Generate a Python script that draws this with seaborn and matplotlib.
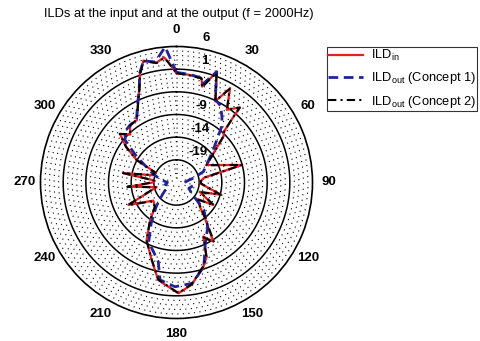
import numpy as np
import pandas as pd
import seaborn as sns
import matplotlib.pyplot as plt
from matplotlib.lines import Line2D

# ILD_in (red) - angle in degrees, level in dB
red_theta = [0, 7, 13.5, 15, 20, 25.5, 29.6, 34.7, 40.2, 41, 43, 45.6, 51.6, 60, 75, 80, 88, 93,
             105.5, 112, 121.4, 128, 136, 141.5, 148, 153.7, 158, 162.3, 171.6, 179, 190.6, 197.7,
             207.4, 215, 221.6, 232, 245, 250, 257, 265, 270, 275, 280, 287, 295, 299.5, 305.3,
             310.6, 316, 321, 327.5, 332.9, 338, 341.5, 344.8, 350.6, 354.3, 356, 360]
red_db = [0.1, -0.1, -0.35, -2.1, 2.0, -4.2, -0.1, -4.5, -2.3, -5.0, -8.7, -9.5, -13.6, -16.3, -9.1,
          -17.8, -18.8, -18.6, -13.7, -18.5, -14.5, -18.0, -16.6, -13.9, -8.7, -10.7, -6.3, -4.5,
          -1.2, 0.45, -2.1, -6.0, -9.7, -13.9, -16.9, -17.5, -12.3, -17.0, -19.5, -13.3, -18.8,
          -19.2, -12.1, -18.5, -19.0, -13.9, -10.4, -7.6, -9.3, -7.7, -7.7, -5.2, -2.0, 1.4, 3.85,
          2.8, 3.75, 2.7, 0.1]

# ILD_out concept 2 (black), almost the same as the input
black_db = [0.1, -0.2, -0.4, -2.3, 1.8, -4.0, -0.3, -4.4, -2.4, -5.1, -8.5, -9.6, -13.5, -16.4, -9.0,
            -17.6, -18.7, -18.5, -13.9, -18.3, -14.3, -17.8, -16.4, -13.6, -8.4, -10.5, -6.4, -4.6,
            -1.3, 0.4, -2.2, -6.1, -9.6, -13.8, -16.8, -17.3, -12.2, -16.9, -19.3, -13.1, -18.6,
            -19.0, -12.0, -18.4, -18.8, -13.8, -10.3, -7.5, -9.2, -7.8, -7.6, -5.3, -2.1, 1.3, 3.7,
            2.7, 3.6, 2.6, 0.1]

# ILD_out concept 1 (blue)
blue_theta = [0, 7, 13.5, 15, 20, 25, 30, 35, 39, 48.5, 58, 68, 75, 85, 95, 105, 115, 125, 135,
              145, 155, 162, 171, 180.8, 189.6, 193, 205, 212, 220, 230, 240, 250, 260, 270, 280,
              290, 303, 309.5, 315, 321, 327.5, 333, 338, 341.5, 344.8, 350, 355.2, 360]
blue_db = [0.3, 0.0, -0.3, -1.5, 2.0, -3.8, -4.5, -6.5, -8.2, -13.2, -16.0, -17.6, -20.0, -22.0,
           -21.5, -20.5, -21.0, -20.0, -15.5, -12.0, -9.0, -4.5, -1.5, -1.0, -2.2, -6.1, -9.5,
           -13.5, -17.0, -20.0, -21.5, -22.0, -21.5, -22.0, -20.5, -18.5, -13.5, -9.3, -8.0, -7.7,
           -7.6, -5.0, -2.0, 1.5, 3.8, 3.0, 6.0, 0.3]

ring_values = [-19, -14, -9, -4, 1]
ring_labels = [6, 1, -9, -14, -19]
angle_labels = list(range(0, 360, 30))
r_min, r_max = -24, 6

plt.rcParams['font.family'] = ['Liberation Sans', 'DejaVu Sans']
plt.rcParams['mathtext.fontset'] = 'custom'
plt.rcParams['mathtext.rm'] = 'Liberation Sans'
plt.rcParams['mathtext.it'] = 'Liberation Sans'

fig = plt.figure(figsize=(4.81, 3.41), dpi=100)
ax = fig.add_axes([0.0842, 0.066, 0.5655, 0.7977], projection='polar')
ax.set_theta_zero_location('N')
ax.set_theta_direction(-1)
ax.set_rlim(r_min, r_max)
ax.grid(False)
ax.set_xticks([])
ax.set_yticks([])
ax.spines['polar'].set_color('black')
ax.spines['polar'].set_linewidth(1.2)

# dotted 1 dB circles and solid 5 dB rings
t = np.linspace(0, 2 * np.pi, 400)
for v in range(r_min + 1, r_max):
    if v in ring_values:
        ax.plot(t, np.full_like(t, v), color='black', lw=1.1, zorder=1)
    else:
        ax.plot(t, np.full_like(t, v), color='black', lw=0.8, ls=(0, (1, 4)), zorder=1)

df_red = pd.DataFrame({'theta': np.deg2rad(red_theta), 'db': red_db})
df_black = pd.DataFrame({'theta': np.deg2rad(red_theta), 'db': black_db})
df_blue = pd.DataFrame({'theta': np.deg2rad(blue_theta), 'db': blue_db})

sns.lineplot(data=df_red, x='theta', y='db', sort=False, estimator=None, color='#ee1c1c', lw=1.6, ax=ax, zorder=3)
sns.lineplot(data=df_blue, x='theta', y='db', sort=False, estimator=None, color='#22229a', lw=2.0, ax=ax, zorder=4)
ax.lines[-1].set_linestyle((0, (3.5, 2)))
sns.lineplot(data=df_black, x='theta', y='db', sort=False, estimator=None, color='black', lw=1.5, ax=ax, zorder=5)
ax.lines[-1].set_linestyle((0, (4, 2, 1, 2)))
ax.set_xlabel('')
ax.set_ylabel('')
ax.set_rlim(r_min, r_max)

# angle labels
px_per_db = 136 / (r_max - r_min)
for a in angle_labels:
    ax.text(np.deg2rad(a), r_min + 152 / px_per_db, str(a), ha='center', va='center',
            fontsize=9.5, fontweight='bold', clip_on=False)

# ring labels
for v in ring_labels:
    rp = (v - r_min) * px_per_db
    dx = 20 + 0.07 * rp
    dy = rp + 8
    ax.text(np.arctan2(dx, dy), r_min + np.hypot(dx, dy) / px_per_db, str(v), ha='center', va='center',
            fontsize=9.5, fontweight='bold', clip_on=False, zorder=2)

fig.text(44 / 481, 1 - 14 / 341, 'ILDs at the input and at the output (f = 2000Hz)', ha='left', va='center', fontsize=9.3)

handles = [Line2D([], [], color='#ee1c1c', lw=1.6),
           Line2D([], [], color='#22229a', lw=2.0, ls=(0, (3.5, 2))),
           Line2D([], [], color='black', lw=1.5, ls=(0, (4, 2, 1, 2)))]
labels = [r'ILD$_{\mathrm{in}}$', r'ILD$_{\mathrm{out}}$ (Concept 1)', r'ILD$_{\mathrm{out}}$ (Concept 2)']
leg = fig.legend(handles, labels, loc='upper left', bbox_to_anchor=(327 / 481, 1 - 47 / 341),
                 fontsize=9.3, frameon=True, fancybox=False, handlelength=2.7, handletextpad=0.6,
                 labelspacing=0.55, borderaxespad=0, borderpad=0.1)
leg.get_frame().set_edgecolor('black')
leg.get_frame().set_linewidth(0.8)

fig.savefig('out.png', dpi=100)
